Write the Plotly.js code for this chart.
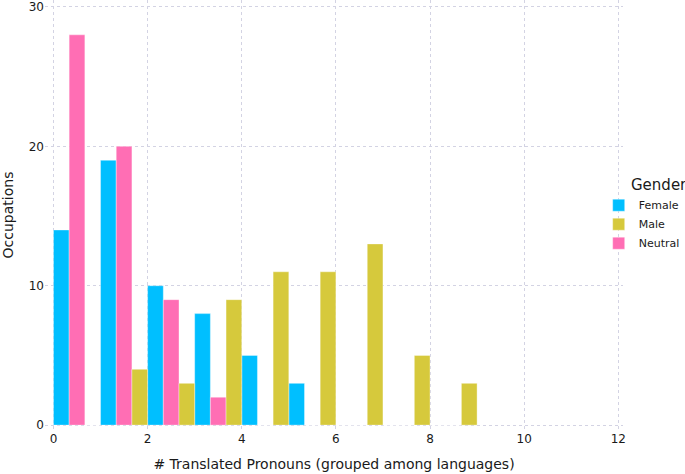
<!DOCTYPE html>
<html>
<head>
<meta charset="utf-8">
<script src="https://cdn.plot.ly/plotly-3.0.1.min.js"></script>
<style>
  html, body { margin: 0; padding: 0; background: #ffffff; }
  #chart { width: 685px; height: 474px; }
</style>
</head>
<body>
<div id="chart"></div>
<script>
// bins: number of translated pronouns (bin start 0..8, drawn at bin centres)
const binCenters = [0.5, 1.5, 2.5, 3.5, 4.5, 5.5, 6.5, 7.5, 8.5];
const femaleCounts = [14, 19, 10, 8, 5, 3, 0, 0, 0];
const neutralCounts = [28, 20, 9, 2, 0, 0, 0, 0, 0];
const maleCounts = [0, 4, 3, 9, 11, 11, 13, 5, 3];
const xTicks = [0, 2, 4, 6, 8, 10, 12];
const yTicks = [0, 10, 20, 30];

const THEME = {
  ink: "#1a1a1a",
  grid: "#d3d3e3",
  female: "#00bfff",
  male: "#d6c93c",
  neutral: "#ff6eb4",
  font: "\"DejaVu Sans\", sans-serif",
};

function barTrace(name, values, color, rank) {
  return {
    type: "bar",
    name,
    x: binCenters,
    y: values,
    legendrank: rank,
    marker: { color, line: { color: "rgba(255,255,255,0.6)", width: 0.6 } },
    hoverinfo: "skip",
  };
}

// trace order sets the dodge order inside each bin
const traces = [
  barTrace("Female", femaleCounts, THEME.female, 1),
  barTrace("Neutral", neutralCounts, THEME.neutral, 3),
  barTrace("Male", maleCounts, THEME.male, 2),
];

const axisCommon = {
  showline: false,
  zeroline: false,
  showgrid: true,
  gridcolor: THEME.grid,
  griddash: "dot",
  gridwidth: 1,
  ticks: "",
  tickfont: { size: 12, color: THEME.ink },
  fixedrange: true,
  automargin: false,
};

const layout = {
  width: 685,
  height: 474,
  paper_bgcolor: "#ffffff",
  plot_bgcolor: "#ffffff",
  font: { family: THEME.font, color: THEME.ink },
  margin: { l: 45, r: 62, t: 0, b: 44, autoexpand: false },
  barmode: "group",
  bargap: 0,
  bargroupgap: 0,
  showlegend: true,
  legend: {
    font: { size: 11 },
    bgcolor: "rgba(0,0,0,0)",
    xref: "container",
    yref: "container",
    x: 0.874,
    xanchor: "left",
    y: 0.527,
    yanchor: "middle",
    tracegroupgap: 0,
    itemwidth: 30,
  },
  annotations: [{
    text: "Gender",
    xref: "paper",
    yref: "paper",
    x: 1.01,
    xanchor: "left",
    y: 0.57,
    yanchor: "middle",
    showarrow: false,
    font: { size: 15, color: THEME.ink },
  }],
  xaxis: {
    ...axisCommon,
    range: [-0.18, 12.1],
    tickvals: xTicks,
    ticktext: xTicks.map(String),
    title: { text: "# Translated Pronouns (grouped among languages)", font: { size: 14 }, standoff: 14 },
  },
  yaxis: {
    ...axisCommon,
    range: [-0.35, 30.5],
    tickvals: yTicks,
    ticktext: yTicks.map(String),
    title: { text: "Occupations", font: { size: 14 }, standoff: 14 },
  },
};

Plotly.newPlot("chart", traces, layout, { displayModeBar: false, staticPlot: true });
</script>
</body>
</html>
